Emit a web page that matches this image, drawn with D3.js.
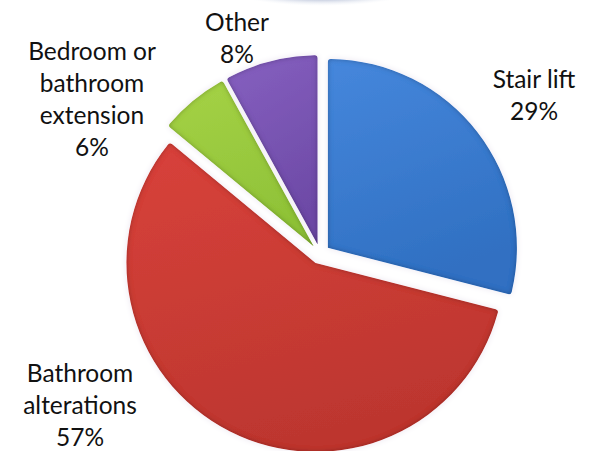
<!DOCTYPE html>
<html>
<head>
<meta charset="utf-8">
<script src="https://cdn.jsdelivr.net/npm/d3@7"></script>
<style>
  html, body { margin: 0; padding: 0; background: #fff; }
  svg { display: block; }
  text { font-family: Lato, "Open Sans", sans-serif; fill: #111; }
</style>
</head>
<body>
<svg id="chart" width="597" height="451"></svg>
<script>
// Home adaptation types, share of all grants
const categories = ["Stair lift", "Bathroom alterations", "Bedroom or bathroom extension", "Other"];
const values = [29, 57, 6, 8];
const labelLines = [
  ["Stair lift", "29%"],
  ["Bathroom", "alterations", "57%"],
  ["Bedroom or", "bathroom", "extension", "6%"],
  ["Other", "8%"]
];
const colorsLight = ["#4687dc", "#d8423b", "#a5d246", "#8660c0"];
const colorsDark  = ["#3070c2", "#bd362f", "#8fc238", "#6d4aa6"];

// layout
const W = 597, H = 451;
const cx = 320, cy = 254, R = 189, explode = 10;
const lineGap = 32;
// label block anchors: centre x and first baseline
const labelAnchor = [[534, 88], [80, 382], [92, 60], [237, 31]];

const svg = d3.select("#chart");
const defs = svg.append("defs");

// soft bevel: darken the inside rim of each slice
const bevel = defs.append("filter").attr("id", "bevel")
  .attr("x", "-10%").attr("y", "-10%").attr("width", "120%").attr("height", "120%");
bevel.append("feGaussianBlur").attr("in", "SourceAlpha").attr("stdDeviation", 2.4).attr("result", "blur");
bevel.append("feComposite").attr("in", "SourceAlpha").attr("in2", "blur")
  .attr("operator", "arithmetic").attr("k2", 1).attr("k3", -1).attr("result", "rim");
bevel.append("feFlood").attr("flood-color", "#000").attr("flood-opacity", 0.55).attr("result", "dark");
bevel.append("feComposite").attr("in", "dark").attr("in2", "rim").attr("operator", "in").attr("result", "rimDark");
bevel.append("feGaussianBlur").attr("in", "rimDark").attr("stdDeviation", 0.6).attr("result", "rimSoft");
const bm = bevel.append("feMerge");
bm.append("feMergeNode").attr("in", "SourceGraphic");
bm.append("feMergeNode").attr("in", "rimSoft");

// faint halo round the slices
const halo = defs.append("filter").attr("id", "halo")
  .attr("x", "-10%").attr("y", "-10%").attr("width", "120%").attr("height", "120%");
halo.append("feGaussianBlur").attr("in", "SourceAlpha").attr("stdDeviation", 3).attr("result", "b");
halo.append("feFlood").attr("flood-color", "#ebe6f0").attr("result", "c");
halo.append("feComposite").attr("in", "c").attr("in2", "b").attr("operator", "in");

values.forEach((v, i) => {
  const g = defs.append("linearGradient").attr("id", "grad" + i)
    .attr("x1", "0%").attr("y1", "0%").attr("x2", "30%").attr("y2", "100%");
  g.append("stop").attr("offset", "0%").attr("stop-color", colorsLight[i]);
  g.append("stop").attr("offset", "100%").attr("stop-color", colorsDark[i]);
});

// shadow of an element above the chart, cut by the top edge
const topGrad = defs.append("radialGradient").attr("id", "topShade");
topGrad.append("stop").attr("offset", "0%").attr("stop-color", "#53618a").attr("stop-opacity", 0.9);
topGrad.append("stop").attr("offset", "70%").attr("stop-color", "#8d9cc0").attr("stop-opacity", 0.45);
topGrad.append("stop").attr("offset", "100%").attr("stop-color", "#dfe6f2").attr("stop-opacity", 0);
svg.append("ellipse").attr("cx", 322).attr("cy", -14).attr("rx", 100).attr("ry", 20)
  .attr("fill", "url(#topShade)");

const pie = d3.pie().sort(null).value(d => d);
const arcs = pie(values);
const arc = d3.arc().innerRadius(0).outerRadius(R).cornerRadius(3);

const slices = svg.append("g").attr("transform", `translate(${cx},${cy})`);

const offset = d => {
  const a = (d.startAngle + d.endAngle) / 2;
  return [Math.sin(a) * explode, -Math.cos(a) * explode];
};

slices.selectAll("path.halo").data(arcs).join("path")
  .attr("class", "halo")
  .attr("d", arc)
  .attr("transform", d => `translate(${offset(d)})`)
  .attr("filter", "url(#halo)");

slices.selectAll("path.slice").data(arcs).join("path")
  .attr("class", "slice")
  .attr("d", arc)
  .attr("transform", d => `translate(${offset(d)})`)
  .attr("fill", (d, i) => `url(#grad${i})`)
  .attr("filter", "url(#bevel)");

// data labels
const labels = svg.append("g");
labelLines.forEach((lines, i) => {
  const [x, y] = labelAnchor[i];
  const t = labels.append("text").attr("text-anchor", "middle").attr("font-size", 24.5);
  lines.forEach((s, k) => {
    t.append("tspan").attr("x", x).attr("y", y + k * lineGap).text(s);
  });
});
</script>
</body>
</html>
